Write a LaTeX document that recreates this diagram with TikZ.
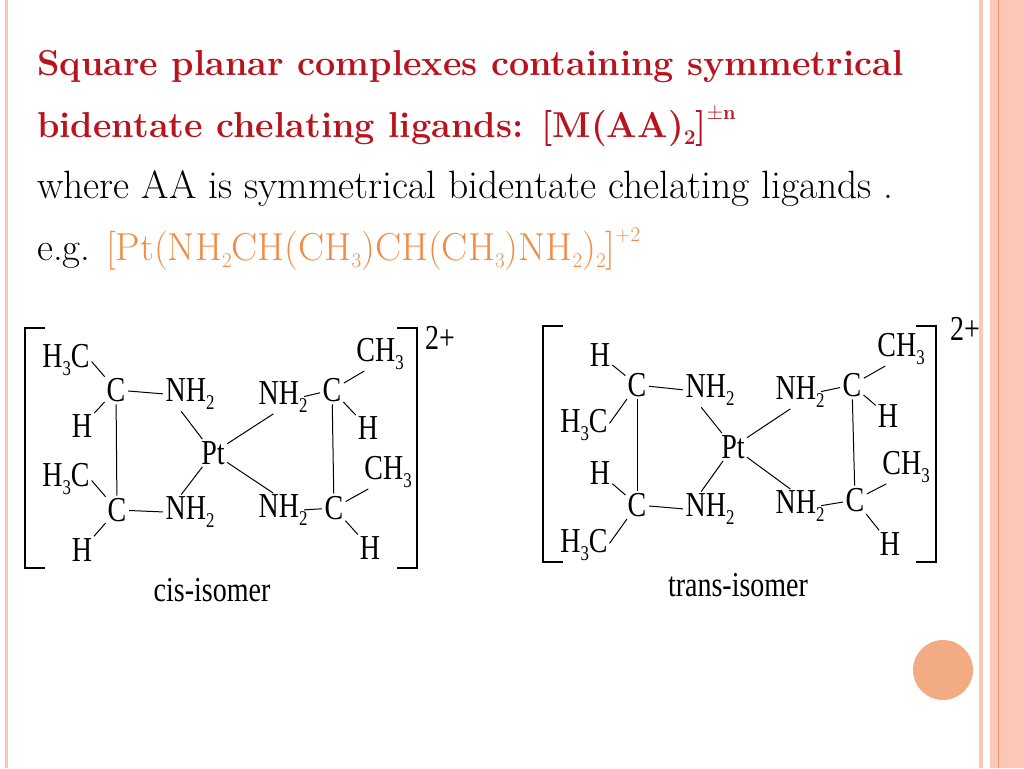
\documentclass[tikz,border=0pt]{standalone}
\usepackage{fontspec}
\setmainfont{Liberation Serif}
\newfontfamily\lmfont{Latin Modern Roman}
\newfontfamily\chemfont[FakeStretch=0.8]{Liberation Serif}
\newcommand\dn[1]{\raisebox{-0.45ex}{\fontsize{21}{21}\selectfont #1}}
\definecolor{titlered}{RGB}{185,20,30}
\definecolor{formorange}{RGB}{240,140,70}
\definecolor{stripe}{RGB}{250,200,180}
\definecolor{stripeline}{RGB}{240,150,100}
\begin{document}
\begin{tikzpicture}[x=1pt,y=-1pt,
  atom/.style={inner sep=0.5pt,font=\chemfont\fontsize{35}{35}\selectfont},
  bond/.style={line width=1pt,shorten <=2pt,shorten >=2pt},
  brack/.style={line width=1.3pt}]
   \useasboundingbox (0,0) rectangle (1024,768);
   \fill[white] (0,0) rectangle (1024,768);
   % slide frame
   \fill[stripe] (5,0) rectangle (8,768);
   \fill[stripe] (979,0) rectangle (983,768);
   \fill[stripe] (990,0) rectangle (1024,768);
   \draw[stripeline,line width=1pt] (998,0) -- (998,768);
   \fill[stripeline!80] (943,670) circle (30);
   % text
   \node[anchor=base west,text=titlered,font=\lmfont\bfseries\fontsize{36}{36}\selectfont,inner sep=0] (t1) at (37,75) {Square planar complexes containing symmetrical};
   \node[anchor=base west,text=titlered,font=\lmfont\bfseries\fontsize{36}{36}\selectfont,inner sep=0] (t2) at (37,137) {bidentate chelating ligands: [M(AA)\dn{2}]\raisebox{1.1ex}{\fontsize{20}{20}\selectfont$\pm$n}};
   \node[anchor=base west,font=\lmfont\fontsize{39.5}{39.5}\selectfont,inner sep=0] (t3) at (37,198) {where AA is symmetrical bidentate chelating ligands .};
   \node[anchor=base west,font=\lmfont\fontsize{39}{39}\selectfont,inner sep=0] (t4) at (37,260) {e.g. \textcolor{formorange}{[Pt(NH\dn{2}CH(CH\dn{3})CH(CH\dn{3})NH\dn{2})\dn{2}]\raisebox{1.1ex}{\fontsize{21}{21}\selectfont +2}}};

   % cis-isomer
   \draw[brack] (45,328) -- (25,328) -- (25,568) -- (45,568);
   \draw[brack] (397,328) -- (417,328) -- (417,568) -- (397,568);
   \node[atom] (ccharge) at (440,338) {2+};
   \node[atom] (cme1) at (66,360) {H\dn{3}C};
   \node[atom] (cc1) at (116,390) {C};
   \node[atom] (cn1) at (190,394) {NH\dn{2}};
   \node[atom] (ch1) at (82,426) {H};
   \node[atom] (cpt) at (213,453) {Pt};
   \node[atom] (cme2) at (66,479) {H\dn{3}C};
   \node[atom] (cc2) at (117,510) {C};
   \node[atom] (cn2) at (190,512) {NH\dn{2}};
   \node[atom] (ch2) at (82,550) {H};
   \node[atom] (cme3) at (380,354) {CH\dn{3}};
   \node[atom] (cn3) at (283,397) {NH\dn{2}};
   \node[atom] (cc3) at (332,390) {C};
   \node[atom] (ch3) at (368,428) {H};
   \node[atom] (cme4) at (388,472) {CH\dn{3}};
   \node[atom] (cn4) at (283,510) {NH\dn{2}};
   \node[atom] (cc4) at (334,508) {C};
   \node[atom] (ch4) at (370,548) {H};
   \node[atom] (cname) at (212,590) {cis-isomer};

   \draw[bond] (cme1.east) -- (cc1);
   \draw[bond] (ch1) -- (cc1);
   \draw[bond] (cc1) -- (cn1.west);
   \draw[bond] (cc1) -- (cc2);
   \draw[bond] (cme2.east) -- (cc2);
   \draw[bond] (ch2) -- (cc2);
   \draw[bond] (cc2) -- (cn2.west);
   \draw[bond] ([xshift=-10]cn1.south) -- (cpt);
   \draw[bond] ([xshift=-10]cn2.north) -- (cpt);
   \draw[bond] ([xshift=-8]cn3.south) -- (cpt);
   \draw[bond] ([xshift=-8]cn4.north) -- (cpt);
   \draw[bond] ([xshift=-6]cn3.east) -- (cc3);
   \draw[bond] ([xshift=-6]cn4.east) -- (cc4);
   \draw[bond] (cc3) -- ([xshift=-14]cme3.south);
   \draw[bond] (cc3) -- (ch3);
   \draw[bond] (cc3) -- (cc4);
   \draw[bond] (cc4) -- ([xshift=-18]cme4.south);
   \draw[bond] (cc4) -- (ch4);

   % trans-isomer
   \draw[brack] (563,326) -- (543,326) -- (543,562) -- (563,562);
   \draw[brack] (916,326) -- (936,326) -- (936,562) -- (916,562);
   \node[atom] (tcharge) at (965,329) {2+};
   \node[atom] (th1) at (600,355) {H};
   \node[atom] (tc1) at (637,385) {C};
   \node[atom] (tn1) at (710,390) {NH\dn{2}};
   \node[atom] (tme1) at (584,425) {H\dn{3}C};
   \node[atom] (tpt) at (733,447) {Pt};
   \node[atom] (th2) at (600,473) {H};
   \node[atom] (tc2) at (637,505) {C};
   \node[atom] (tn2) at (710,509) {NH\dn{2}};
   \node[atom] (tme2) at (584,545) {H\dn{3}C};
   \node[atom] (tme3) at (901,349) {CH\dn{3}};
   \node[atom] (tn3) at (800,392) {NH\dn{2}};
   \node[atom] (tc3) at (852,385) {C};
   \node[atom] (th3) at (888,416) {H};
   \node[atom] (tme4) at (906,467) {CH\dn{3}};
   \node[atom] (tn4) at (800,506) {NH\dn{2}};
   \node[atom] (tc4) at (855,500) {C};
   \node[atom] (th4) at (890,544) {H};
   \node[atom] (tname) at (738,585) {trans-isomer};

   \draw[bond] (th1) -- (tc1);
   \draw[bond] (tme1.east) -- (tc1);
   \draw[bond] (tc1) -- (tn1.west);
   \draw[bond] (tc1) -- (tc2);
   \draw[bond] (th2) -- (tc2);
   \draw[bond] (tme2.east) -- (tc2);
   \draw[bond] (tc2) -- (tn2.west);
   \draw[bond] ([xshift=-10]tn1.south) -- (tpt);
   \draw[bond] ([xshift=-10]tn2.north) -- (tpt);
   \draw[bond] ([xshift=-8]tn3.south) -- (tpt);
   \draw[bond] ([xshift=-8]tn4.north) -- (tpt);
   \draw[bond] ([xshift=-6]tn3.east) -- (tc3);
   \draw[bond] ([xshift=-6]tn4.east) -- (tc4);
   \draw[bond] (tc3) -- ([xshift=-14]tme3.south);
   \draw[bond] (tc3) -- (th3);
   \draw[bond] (tc3) -- (tc4);
   \draw[bond] (tc4) -- ([xshift=-18]tme4.south);
   \draw[bond] (tc4) -- (th4);
\end{tikzpicture}
\end{document}
